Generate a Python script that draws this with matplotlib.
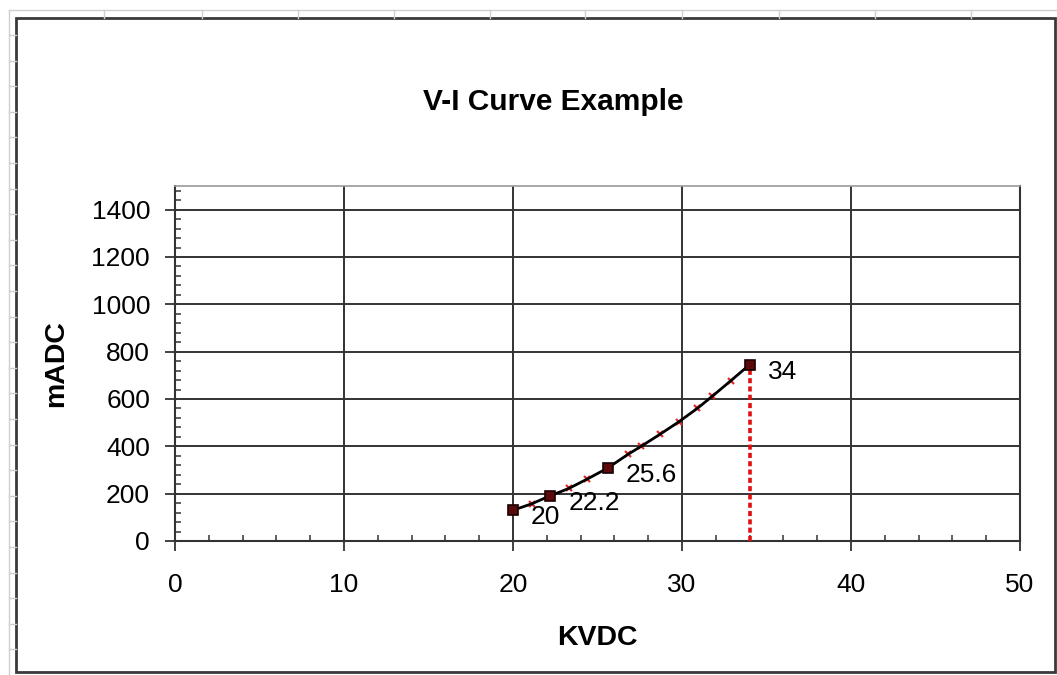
import numpy as np
import matplotlib.pyplot as plt
from matplotlib.patches import Rectangle
from matplotlib.lines import Line2D
from matplotlib.ticker import MultipleLocator

plt.rcParams['font.family'] = ['Liberation Sans', 'DejaVu Sans']

# measured points (black squares, labelled with their KVDC value)
vi_kv = [20, 22.2, 25.6, 34]
vi_ma = [130, 191, 308, 745]
vi_labels = ["20", "22.2", "25.6", "34"]

# small red marks along the curve
fit_kv = [21.1, 23.3, 24.4, 26.8, 27.6, 28.7, 29.8, 30.9, 31.8, 32.9]
fit_ma = [157, 222, 262, 366, 401, 451, 503, 560, 612, 678]

W, H = 1057, 675
fig = plt.figure(figsize=(W / 100, H / 100), dpi=100)
fig.patch.set_facecolor("white")


def fx(px):
    return px / W


def fy(py):
    return 1 - py / H


# faint spreadsheet grid behind the chart object
fig.add_artist(Line2D([fx(9), fx(1057)], [fy(10), fy(10)], color="#cfcfcf", lw=1))
fig.add_artist(Line2D([fx(9), fx(9)], [fy(10), fy(675)], color="#cfcfcf", lw=1))
for cx in [104, 202, 298, 394, 490, 585, 682, 779, 875, 971]:
    fig.add_artist(Line2D([fx(cx), fx(cx)], [fy(10), fy(18)], color="#cfcfcf", lw=1))
for ry in np.arange(35, 675, 25.6):
    fig.add_artist(Line2D([fx(9), fx(16)], [fy(ry), fy(ry)], color="#cfcfcf", lw=1))

# chart object border
fig.add_artist(Rectangle((fx(16), fy(672)), fx(1055) - fx(16), fy(18) - fy(672),
                         transform=fig.transFigure, fill=False,
                         edgecolor="#3a3a3a", lw=2))

ax = fig.add_axes([fx(175), fy(541), fx(1020) - fx(175), fy(186) - fy(541)])
ax.set_xlim(0, 50)
ax.set_ylim(0, 1500)

# black curve through all read points
line_kv = np.array(vi_kv + fit_kv)
line_ma = np.array(vi_ma + fit_ma)
order = np.argsort(line_kv)
ax.plot(fit_kv, fit_ma, ls="none", marker="x", ms=5, mew=1.6,
        color="#e22a2a", zorder=3)
ax.plot(line_kv[order], line_ma[order], color="black", lw=2, zorder=4)
ax.plot(vi_kv, vi_ma, ls="none", marker="s", ms=7, mfc="#5a0a0a",
        mec="#1a0000", mew=1.2, zorder=5)

# dotted drop line at the last point
ax.plot([vi_kv[-1], vi_kv[-1]], [0, vi_ma[-1]], color="#e01010", lw=2.6,
        ls=(0, (1.4, 0.9)), zorder=3)

for k, m, t in zip(vi_kv, vi_ma, vi_labels):
    ax.annotate(t, (k, m), xytext=(13, -5), textcoords="offset points",
                ha="left", va="center", fontsize=19, zorder=6)

ax.xaxis.set_major_locator(MultipleLocator(10))
ax.xaxis.set_minor_locator(MultipleLocator(2))
ax.yaxis.set_major_locator(MultipleLocator(200))
ax.yaxis.set_minor_locator(MultipleLocator(40))
ax.set_yticks(np.arange(0, 1401, 200))

ax.grid(True, which="major", color="#333333", lw=1.4)
ax.set_axisbelow(True)
for s in ["left", "bottom", "right"]:
    ax.spines[s].set_color("#333333")
    ax.spines[s].set_linewidth(1.5)
ax.spines["top"].set_color("#9a9a9a")
ax.spines["top"].set_linewidth(1.2)

ax.tick_params(which="major", direction="out", length=7, width=1.3,
               color="#333333", labelsize=19)
ax.tick_params(which="minor", direction="in", length=4, width=1.1,
               color="#333333")
ax.tick_params(axis="x", which="major", pad=16)
ax.tick_params(axis="y", which="major", pad=11)

ax.set_xlabel("KVDC", fontsize=20.5, fontweight="bold", labelpad=20)
ax.set_ylabel("mADC", fontsize=20.5, fontweight="bold", labelpad=16)
fig.text(fx(553), fy(102), "V-I Curve Example", ha="center", va="center",
         fontsize=21.5, fontweight="bold")

fig.savefig("out.png", dpi=100)
